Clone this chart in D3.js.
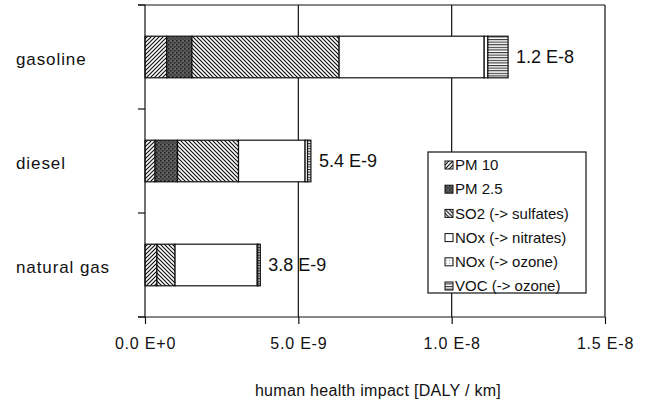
<!DOCTYPE html>
<html>
<head>
<meta charset="utf-8">
<script src="https://cdn.jsdelivr.net/npm/d3@7"></script>
<style>
  body { margin: 0; background: #fff; }
  svg { font-family: "Liberation Sans", Arial, sans-serif; }
</style>
</head>
<body>
<svg id="chart" width="647" height="408"></svg>
<script>
// human health impact per fuel, values in E-9 DALY / km

var fuels = ["gasoline", "diesel", "natural gas"];
var pollutants = ["PM 10", "PM 2.5", "SO2 (-> sulfates)", "NOx (-> nitrates)", "NOx (-> ozone)", "VOC (-> ozone)"];
var gasoline = [0.71, 0.82, 4.80, 4.73, 0.12, 0.66];
var diesel = [0.33, 0.73, 1.99, 2.17, 0.08, 0.11];
var naturalGas = [0.39, 0.0, 0.59, 2.68, 0.02, 0.08];
var totalLabels = ["1.2 E-8", "5.4 E-9", "3.8 E-9"];
var xTicks = [0, 5e-9, 1e-8, 1.5e-8];
var xTickLabels = ["0.0 E+0", "5.0 E-9", "1.0 E-8", "1.5 E-8"];

var svg = d3.select("#chart");
var series = [gasoline, diesel, naturalGas];

var x = d3.scaleLinear().domain([0, 1.5e-8]).range([145, 605]);
var y = d3.scaleBand().domain(fuels).range([5, 317])
  .paddingInner(0.6).paddingOuter(0.3);

// patterns
var defs = svg.append("defs");

function hatch(id, d) {
  var p = defs.append("pattern").attr("id", id)
    .attr("patternUnits", "userSpaceOnUse")
    .attr("width", 4).attr("height", 4);
  p.append("rect").attr("width", 4).attr("height", 4).attr("fill", "#fff");
  p.append("path").attr("d", d).attr("stroke", "#111").attr("stroke-width", 1.2);
}
hatch("pm10", "M-1,1 l2,-2 M0,4 l4,-4 M3,5 l2,-2");
hatch("so2", "M-1,3 l2,2 M0,0 l4,4 M3,-1 l2,2");

var pm = defs.append("pattern").attr("id", "pm25")
  .attr("patternUnits", "userSpaceOnUse").attr("width", 4).attr("height", 4);
pm.append("rect").attr("width", 4).attr("height", 4).attr("fill", "#555");
pm.append("rect").attr("x", 0).attr("y", 0).attr("width", 1.5).attr("height", 1.5).attr("fill", "#222");
pm.append("rect").attr("x", 2).attr("y", 2).attr("width", 1.5).attr("height", 1.5).attr("fill", "#333");
pm.append("rect").attr("x", 2.5).attr("y", 0.5).attr("width", 1).attr("height", 1).attr("fill", "#888");

var oz = defs.append("pattern").attr("id", "noxoz")
  .attr("patternUnits", "userSpaceOnUse").attr("width", 3).attr("height", 3);
oz.append("rect").attr("width", 3).attr("height", 3).attr("fill", "#fff");
oz.append("rect").attr("x", 1).attr("y", 1).attr("width", 1).attr("height", 1).attr("fill", "#999");

var voc = defs.append("pattern").attr("id", "voc")
  .attr("patternUnits", "userSpaceOnUse").attr("width", 3).attr("height", 2.6);
voc.append("rect").attr("width", 3).attr("height", 2.6).attr("fill", "#fff");
voc.append("rect").attr("y", 0).attr("width", 3).attr("height", 1.1).attr("fill", "#333");

var fills = ["url(#pm10)", "url(#pm25)", "url(#so2)", "#fff", "url(#noxoz)", "url(#voc)"];

// gridlines
svg.selectAll("line.grid")
  .data(xTicks.slice(1))
  .enter().append("line")
  .attr("class", "grid")
  .attr("x1", function(d) { return x(d); })
  .attr("x2", function(d) { return x(d); })
  .attr("y1", 5).attr("y2", 317)
  .attr("stroke", "#111").attr("stroke-width", 1.2);

// top border
svg.append("line").attr("x1", 138).attr("x2", x(1.5e-8))
  .attr("y1", 5).attr("y2", 5).attr("stroke", "#111").attr("stroke-width", 1.2);

// stacked bars
fuels.forEach(function(fuel, i) {
  var vals = series[i];
  var acc = 0;
  var segs = vals.map(function(v, j) {
    var s = { x0: acc, x1: acc + v * 1e-9, fill: fills[j] };
    acc += v * 1e-9;
    return s;
  }).filter(function(s) { return s.x1 > s.x0; });

  svg.append("g").selectAll("rect")
    .data(segs)
    .enter().append("rect")
    .attr("x", function(d) { return x(d.x0); })
    .attr("y", y(fuel))
    .attr("width", function(d) { return x(d.x1) - x(d.x0); })
    .attr("height", y.bandwidth())
    .attr("fill", function(d) { return d.fill; })
    .attr("stroke", "#111")
    .attr("stroke-width", 1.2);

  svg.append("text")
    .attr("x", x(acc) + 8)
    .attr("y", y(fuel) + y.bandwidth() / 2)
    .attr("dy", "0.35em")
    .attr("font-size", 18)
    .attr("fill", "#111")
    .text(totalLabels[i]);

  svg.append("text")
    .attr("x", 16)
    .attr("y", y(fuel) + y.bandwidth() / 2 + 2)
    .attr("dy", "0.35em")
    .attr("font-size", 17)
    .attr("letter-spacing", 0.9)
    .attr("fill", "#111")
    .text(fuel);
});

// y axis with ticks at band boundaries
var yEdges = [0, 1, 2, 3].map(function(k) { return 5 + k * y.step(); });
svg.append("line").attr("x1", 145).attr("x2", 145)
  .attr("y1", 5).attr("y2", 318).attr("stroke", "#111").attr("stroke-width", 1.2);
svg.selectAll("line.ytick")
  .data(yEdges)
  .enter().append("line")
  .attr("class", "ytick")
  .attr("x1", 138).attr("x2", 145)
  .attr("y1", function(d) { return d; })
  .attr("y2", function(d) { return d; })
  .attr("stroke", "#111").attr("stroke-width", 1.2);

// x axis
var xAxis = d3.axisBottom(x)
  .tickValues(xTicks)
  .tickSize(7)
  .tickPadding(14)
  .tickFormat(function(d, i) { return xTickLabels[i]; });

var gx = svg.append("g")
  .attr("transform", "translate(0,317)")
  .call(xAxis);
gx.select(".domain").remove();
gx.selectAll(".tick line").attr("stroke", "#111").attr("stroke-width", 1.2);
gx.selectAll(".tick text")
  .attr("font-size", 16)
  .attr("letter-spacing", 0.8)
  .attr("fill", "#111")
  .style("font-family", "'Liberation Sans', Arial, sans-serif");
svg.append("line").attr("x1", 138).attr("x2", x(1.5e-8))
  .attr("y1", 317).attr("y2", 317).attr("stroke", "#111").attr("stroke-width", 1.2);

svg.append("text")
  .attr("x", 378)
  .attr("y", 396)
  .attr("text-anchor", "middle")
  .attr("font-size", 16)
  .attr("letter-spacing", 0.3)
  .attr("fill", "#111")
  .text("human health impact [DALY / km]");

// legend
var legend = svg.append("g");
legend.append("rect")
  .attr("x", 428).attr("y", 152)
  .attr("width", 158).attr("height", 141)
  .attr("fill", "#fff").attr("stroke", "#111").attr("stroke-width", 1.2);

var items = legend.selectAll("g.item")
  .data(pollutants)
  .enter().append("g")
  .attr("class", "item")
  .attr("transform", function(d, i) { return "translate(445," + (165 + i * 24.2) + ")"; });

items.append("rect")
  .attr("x", 0).attr("y", -4)
  .attr("width", 8).attr("height", 8)
  .attr("fill", function(d, i) { return fills[i]; })
  .attr("stroke", "#111").attr("stroke-width", 1);

items.append("text")
  .attr("x", 10)
  .attr("dy", "0.35em")
  .attr("font-size", 15)
  .attr("fill", "#111")
  .text(function(d) { return d; });
</script>
</body>
</html>
